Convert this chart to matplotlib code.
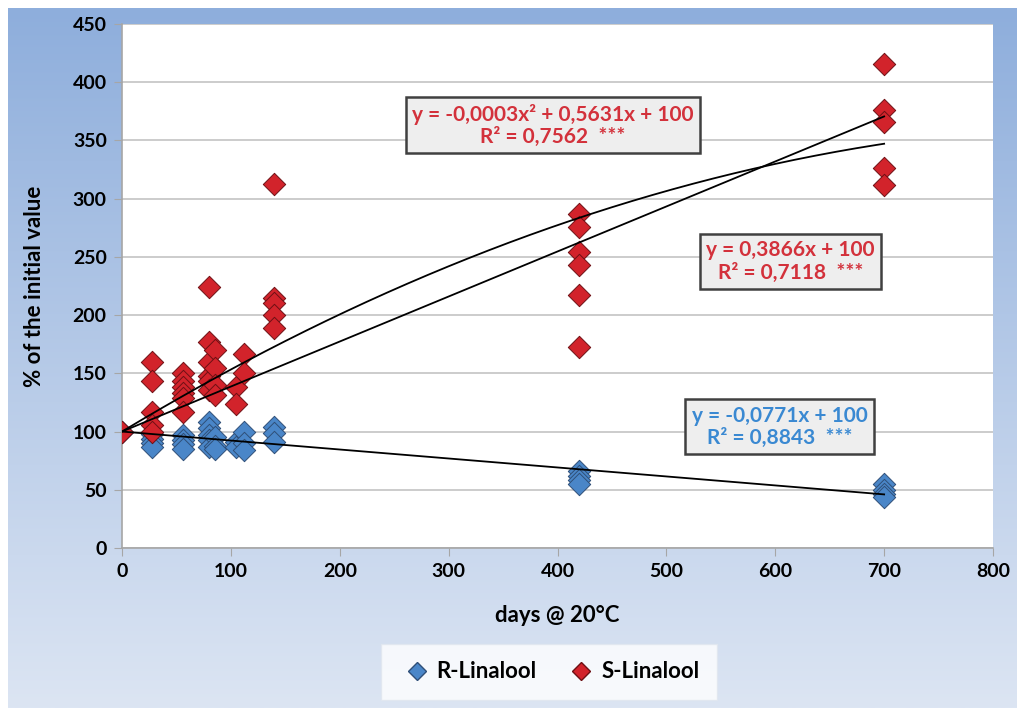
import numpy as np
import matplotlib
matplotlib.use("Agg")
import matplotlib.pyplot as plt
from matplotlib.lines import Line2D

plt.rcParams["font.family"] = ["Lato", "DejaVu Sans"]
plt.rcParams["font.weight"] = "bold"

# S-Linalool (red) measurements
s_days = [0,
          28, 28, 28, 28, 28,
          56, 56, 56, 56, 56, 56,
          80, 80, 80, 80, 80, 80, 85, 85, 85, 85,
          105, 105, 112, 112,
          140, 140, 140, 140, 140,
          420, 420, 420, 420, 420, 420,
          700, 700, 700, 700, 700]
s_vals = [100,
          160, 143, 117, 106, 100,
          150, 143, 138, 133, 129, 117,
          224, 177, 160, 148, 143, 136, 170, 155, 140, 131,
          138, 124, 167, 150,
          313, 215, 210, 200, 189,
          287, 276, 254, 243, 217, 173,
          416, 376, 366, 326, 312]

# R-Linalool (blue) measurements
r_days = [0,
          28, 28, 28, 28,
          56, 56, 56, 56,
          80, 80, 80, 80, 80, 85, 85, 85,
          105, 105, 112, 112, 112,
          140, 140, 140,
          420, 420, 420, 420,
          700, 700, 700, 700]
r_vals = [100,
          98, 94, 90, 87,
          97, 93, 89, 85,
          108, 103, 97, 93, 87, 95, 88, 85,
          91, 87, 100, 90, 84,
          104, 99, 91,
          66, 62, 58, 55,
          55, 50, 46, 44]

# trend line coefficients (from the chart labels)
r_lin = [-0.0771, 100]
s_lin = [0.3866, 100]
s_quad = [-0.0003, 0.5631, 100]

labels = ["R-Linalool", "S-Linalool"]
red = "#d2232b"
blue = "#4a86c8"
red_txt = "#d3313b"
blue_txt = "#3a89d2"

fig = plt.figure(figsize=(10.17, 7.08), dpi=100)

# gradient background
bg = fig.add_axes([8 / 1017, 0, 1 - 8 / 1017, 1 - 8 / 708], zorder=-10)
top_c = np.array([0x8e, 0xae, 0xdc]) / 255
bot_c = np.array([0xdc, 0xe5, 0xf3]) / 255
t = np.linspace(0, 1, 256)[:, None]
grad = top_c * (1 - t) + bot_c * t
bg.imshow(grad[:, None, :], aspect="auto", extent=[0, 1, 0, 1])
bg.axis("off")

ax = fig.add_axes([122 / 1017, 1 - 548 / 708, (993 - 122) / 1017, (548 - 24) / 708])
ax.set_facecolor("white")
ax.set_xlim(0, 800)
ax.set_ylim(0, 450)
ax.set_xticks(np.arange(0, 801, 100))
ax.set_yticks(np.arange(0, 451, 50))
ax.yaxis.grid(True, color="#c8c8c8", lw=1.3)
ax.set_axisbelow(True)
for sp in ["top", "right"]:
    ax.spines[sp].set_visible(False)
for sp in ["left", "bottom"]:
    ax.spines[sp].set_color("#a6a6a6")
    ax.spines[sp].set_linewidth(1.2)
ax.tick_params(axis="both", length=6, color="#a6a6a6", labelsize=14, pad=5)
for lab in ax.get_xticklabels() + ax.get_yticklabels():
    lab.set_fontweight("bold")

ax.set_xlabel("days @ 20°C", fontsize=16, fontweight="bold", labelpad=18)
ax.set_ylabel("% of the initial value", fontsize=16, fontweight="bold", labelpad=20)

ax.scatter(r_days, r_vals, marker="D", s=130, color=blue, edgecolor="#2f4f78",
           linewidth=0.7, zorder=3)
ax.scatter(s_days, s_vals, marker="D", s=130, color=red, edgecolor="#6e1014",
           linewidth=0.7, zorder=3)

xx = np.linspace(0, 700, 300)
ax.plot(xx, np.polyval(r_lin, xx), color="black", lw=1.3, zorder=4)
ax.plot(xx, np.polyval(s_lin, xx), color="black", lw=1.3, zorder=4)
ax.plot(xx, np.polyval(s_quad, xx), color="black", lw=1.3, zorder=4)

box = dict(boxstyle="square,pad=0.3", facecolor="#eeeeee", edgecolor="#404040", lw=1.8)
ax.text(396, 363, "y = -0,0003x² + 0,5631x + 100\nR² = 0,7562  ***", color=red_txt,
        fontsize=15, fontweight="bold", ha="center", va="center", bbox=box,
        linespacing=1.15, zorder=5)
ax.text(614, 246, "y = 0,3866x + 100\nR² = 0,7118  ***", color=red_txt,
        fontsize=15, fontweight="bold", ha="center", va="center", bbox=box,
        linespacing=1.15, zorder=5)
ax.text(604, 104, "y = -0,0771x + 100\nR² = 0,8843  ***", color=blue_txt,
        fontsize=15, fontweight="bold", ha="center", va="center", bbox=box,
        linespacing=1.15, zorder=5)

handles = [Line2D([], [], marker="D", ls="", color=blue, markeredgecolor="#2f4f78",
                  markersize=9),
           Line2D([], [], marker="D", ls="", color=red, markeredgecolor="#6e1014",
                  markersize=9)]
leg = fig.legend(handles, labels, loc="center", bbox_to_anchor=(549 / 1017, 1 - 672 / 708),
                 ncol=2, fontsize=16, frameon=True, fancybox=False, borderpad=0.8,
                 handletextpad=0.1, columnspacing=1.2, handlelength=1.6)
leg.get_frame().set_facecolor("white")
leg.get_frame().set_edgecolor("#e0e6ef")
for txt in leg.get_texts():
    txt.set_fontweight("bold")

fig.savefig("out.png", dpi=100)
